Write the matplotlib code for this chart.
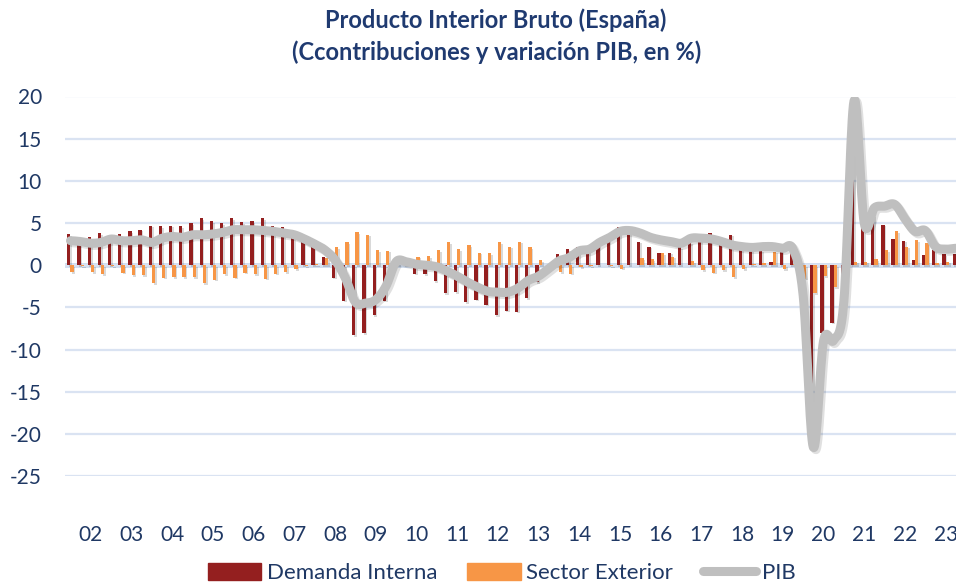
import numpy as np
import matplotlib
matplotlib.use("Agg")
import matplotlib.pyplot as plt
import matplotlib.patheffects as pe
from matplotlib.lines import Line2D
from matplotlib.patches import Patch

# quarterly data, 88 quarters; a year label sits on every 4th quarter
year_labels = ["02", "03", "04", "05", "06", "07", "08", "09", "10", "11", "12",
               "13", "14", "15", "16", "17", "18", "19", "20", "21", "22", "23"]
label_start = 2  # index of the first labelled quarter

demanda_interna = [3.7, 2.5, 3.3, 3.8, 2.8, 3.7, 4.0, 4.2, 4.7, 4.6, 4.7, 4.6,
                   5.0, 5.6, 5.2, 5.0, 5.6, 5.1, 5.2, 5.6, 4.7, 4.5, 4.0, 2.9,
                   2.2, 1.0, -1.5, -4.2, -8.3, -8.1, -5.9, -4.2, 0.2, 0.2, -1.0, -1.1,
                   -1.9, -3.3, -3.2, -4.4, -4.1, -4.7, -5.9, -5.4, -5.5, -3.9, -2.0, 0.0,
                   1.3, 1.9, 2.1, 1.9, 2.7, 3.4, 4.5, 3.8, 2.8, 2.2, 1.5, 1.5,
                   2.1, 2.7, 3.6, 3.8, 3.2, 3.6, 2.7, 1.8, 1.8, 0.4, 2.4, 1.6,
                   -2.0, -18.4, -8.0, -6.8, -1.8, 17.0, 4.5, 5.9, 4.8, 3.1, 2.9, 0.6,
                   1.25, 1.75, 1.3, 1.35]

sector_exterior = [-0.8, -0.1, -0.8, -1.1, -0.1, -0.9, -1.2, -1.2, -2.1, -1.5, -1.4, -1.4,
                   -1.4, -2.1, -1.7, -1.1, -1.5, -0.9, -1.1, -1.6, -1.0, -0.8, -0.5, -0.1,
                   0.1, 0.8, 2.1, 2.7, 3.9, 3.6, 1.8, 1.7, 0.2, 0.3, 1.0, 1.1,
                   1.8, 2.7, 1.9, 2.4, 1.5, 1.45, 2.7, 2.2, 2.8, 2.1, 0.6, -0.3,
                   -0.8, -1.0, -0.2, -0.1, 0.0, -0.1, -0.4, 0.0, 0.8, 0.7, 1.4, 1.0,
                   0.0, 0.5, -0.6, -0.9, -0.6, -1.4, -0.5, 0.1, 0.2, 1.6, -0.5, 0.1,
                   -1.6, -3.3, -1.3, -2.6, -2.5, 0.4, 0.4, 0.7, 1.8, 4.0, 2.2, 3.0,
                   2.6, 0.3, 0.4, 0.6]

pib = [2.9, 2.8, 2.6, 2.7, 3.1, 2.9, 2.9, 3.0, 2.7, 3.2, 3.4, 3.3,
       3.6, 3.6, 3.7, 3.9, 4.2, 4.2, 4.2, 4.1, 4.0, 3.8, 3.6, 3.1,
       2.5, 1.8, 0.6, -1.5, -4.4, -4.5, -4.1, -2.5, 0.4, 0.4, 0.1, 0.0,
       -0.2, -0.7, -1.3, -2.0, -2.6, -3.1, -3.2, -3.2, -2.7, -1.8, -1.3, -0.4,
       0.5, 0.9, 1.7, 1.9, 2.7, 3.3, 4.0, 4.1, 3.8, 3.3, 3.0, 2.8,
       2.6, 3.2, 3.2, 3.1, 2.8, 2.4, 2.2, 2.1, 2.2, 2.2, 2.0, 1.9,
       -3.6, -21.6, -9.0, -8.9, -4.3, 19.5, 5.0, 6.8, 7.0, 7.2, 5.5, 4.0,
       4.1, 2.2, 1.9, 2.0]

navy = "#1F3864"
title_col = "#1F3A70"
red = "#941F1F"
orange = "#F79646"
grey = "#BFBFBF"
grid_col = "#DAE3F2"

plt.rcParams["font.family"] = ["Lato", "DejaVu Sans"]
plt.rcParams["axes.unicode_minus"] = False

fig = plt.figure(figsize=(9.56, 5.82), dpi=100)
ax = fig.add_axes([65.4 / 956, 106 / 582, 895.5 / 956, 379.5 / 582])

x = np.arange(len(pib))
w = 0.32
shadow = [pe.SimplePatchShadow(offset=(1.2, -1.2), shadow_rgbFace="k", alpha=0.15), pe.Normal()]
ax.bar(x - w / 2, demanda_interna, width=w, color=red, zorder=3, path_effects=shadow)
ax.bar(x + w / 2, sector_exterior, width=w, color=orange, zorder=3, path_effects=shadow)

# smoothed line like Excel (Catmull-Rom through the quarterly points)
y = np.array(pib)
ext = np.concatenate([[y[0]], y, [y[-1]]])
t = np.linspace(0, 1, 16, endpoint=False)
h00 = 2 * t**3 - 3 * t**2 + 1
h10 = t**3 - 2 * t**2 + t
h01 = -2 * t**3 + 3 * t**2
h11 = t**3 - t**2
sx, sy = [], []
for i in range(len(y) - 1):
    p0, p1, p2, p3 = ext[i], ext[i + 1], ext[i + 2], ext[i + 3]
    m1 = (p2 - p0) / 2
    m2 = (p3 - p1) / 2
    sy.append(h00 * p1 + h10 * m1 + h01 * p2 + h11 * m2)
    sx.append(i + t)
sx = np.concatenate(sx + [[len(y) - 1]])
sy = np.concatenate(sy + [[y[-1]]])
ax.plot(sx, sy, color=grey, lw=6.5, solid_capstyle="round", solid_joinstyle="round", zorder=4,
        path_effects=[pe.SimpleLineShadow(offset=(1.5, -1.5), shadow_color="k", alpha=0.12), pe.Normal()])

ax.set_xlim(-0.5, len(pib) - 0.5)
ax.set_ylim(-25, 20)
ax.set_yticks(range(-25, 21, 5))
ax.set_xticks(range(label_start, len(pib), 4))
ax.set_xticklabels(year_labels)
ax.tick_params(axis="both", length=0, labelcolor=navy, labelsize=15)
ax.tick_params(axis="x", pad=35)
ax.tick_params(axis="y", pad=17)
ax.grid(axis="y", color=grid_col, lw=1.6, zorder=0)
ax.axhline(0, color="#D3DFF0", lw=3.6, zorder=1)
for s in ax.spines.values():
    s.set_visible(False)

fig.text(0.519, 0.965, "Producto Interior Bruto (España)", ha="center", va="center",
         fontsize=17, fontweight="bold", color=title_col)
fig.text(0.519, 0.910, "(Ccontribuciones y variación PIB, en %)", ha="center", va="center",
         fontsize=17, fontweight="bold", color=title_col)

handles = [Patch(color=red), Patch(color=orange),
           Line2D([0], [0], color=grey, lw=6.5, solid_capstyle="round")]
fig.legend(handles, ["Demanda Interna", "Sector Exterior", "PIB"], loc="center",
           bbox_to_anchor=(0.525, 0.015), ncol=3, frameon=False, fontsize=16,
           labelcolor=navy, handlelength=2.4, handleheight=0.8, handletextpad=0.25,
           columnspacing=1.35)

fig.savefig("out.png", dpi=100)
